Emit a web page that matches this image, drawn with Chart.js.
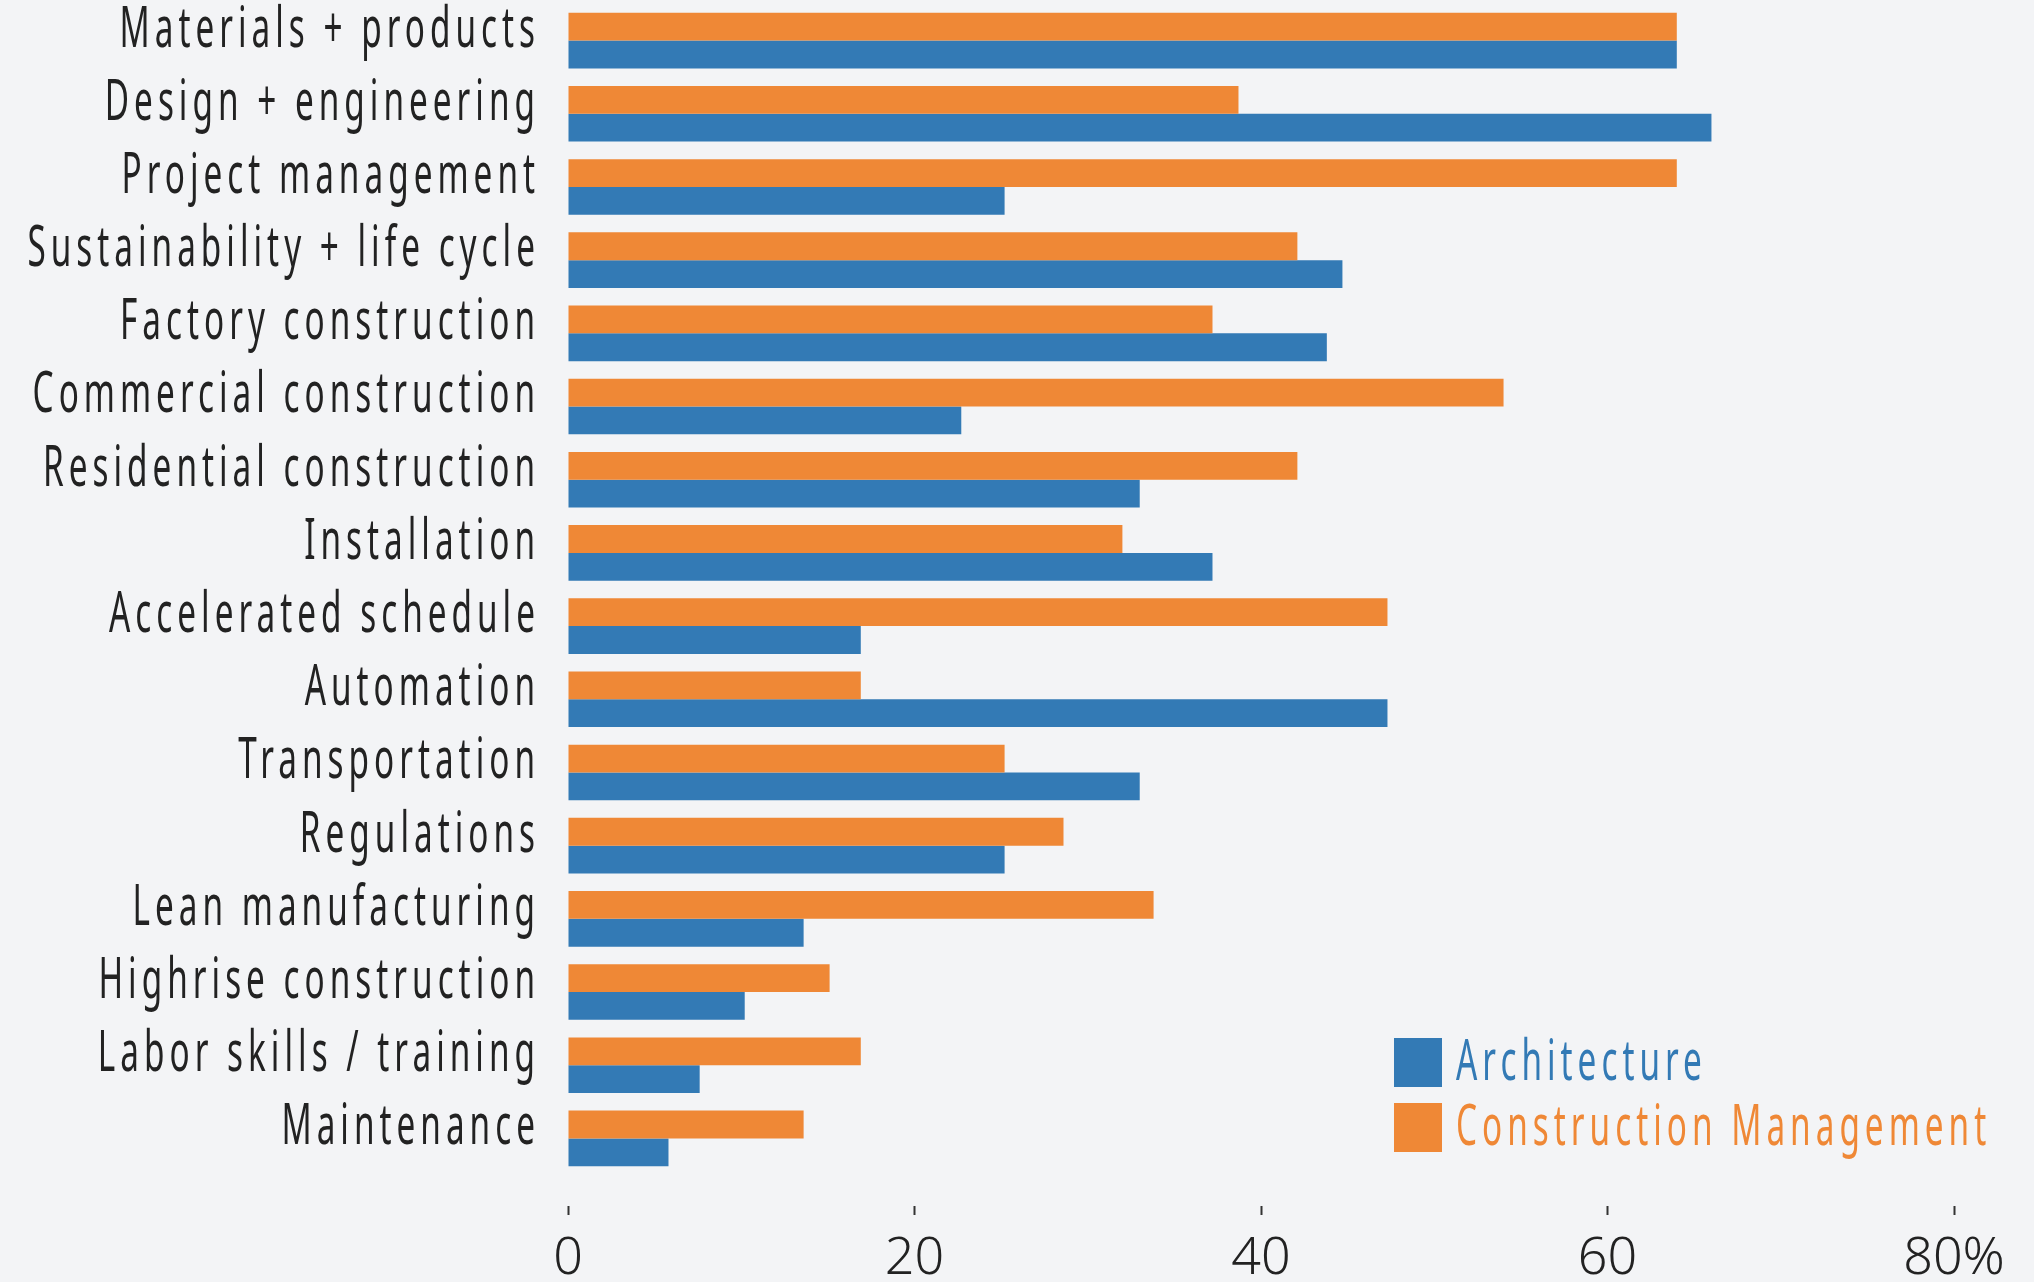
<!DOCTYPE html>
<html>
<head>
<meta charset="utf-8">
<script src="https://cdn.jsdelivr.net/npm/chart.js@4/dist/chart.umd.min.js"></script>
<style>
  html, body { margin: 0; padding: 0; background: #f3f4f6; }
  #wrap { width: 2034px; height: 1282px; position: relative; }
</style>
</head>
<body>
<div id="wrap"><canvas id="chart_one"></canvas></div>
<script>
const categories = [
  'Materials + products', 'Design + engineering', 'Project management',
  'Sustainability + life cycle', 'Factory construction', 'Commercial construction',
  'Residential construction', 'Installation', 'Accelerated schedule', 'Automation',
  'Transportation', 'Regulations', 'Lean manufacturing', 'Highrise construction',
  'Labor skills / training', 'Maintenance'
];
const architecture = [64, 66, 25.2, 44.7, 43.8, 22.7, 33, 37.2, 16.9, 47.3, 33, 25.2, 13.6, 10.2, 7.6, 5.8];
const constructionMgmt = [64, 38.7, 64, 42.1, 37.2, 54, 42.1, 32, 47.3, 16.9, 25.2, 28.6, 33.8, 15.1, 16.9, 13.6];
const xTicks = [0, 20, 40, 60, 80];

const blue = '#337ab5';
const orange = '#ef8836';
const fontFamily = "'Noto Sans', Roboto, sans-serif";

// no condensed face installed: squeeze glyphs and add tracking by hand
const squeeze = 0.595;
const tracking = 5;

function narrowText(c, text, x, y, align) {
  c.save();
  c.translate(align === 'right' ? x + tracking : x, y);
  c.scale(squeeze, 1);
  c.letterSpacing = (tracking / squeeze) + 'px';
  c.textAlign = align;
  c.fillText(text, 0, 0);
  c.restore();
}

// category labels placed on the y scale's own pixels
const narrowLabels = {
  id: 'narrowLabels',
  afterDraw(chart) {
    const c = chart.ctx;
    const ys = chart.scales.y;
    c.save();
    c.font = '400 56px ' + fontFamily;
    c.fillStyle = '#222';
    c.textBaseline = 'middle';
    chart.data.labels.forEach((lab, i) => {
      narrowText(c, lab, ys.right - 33, ys.getPixelForValue(i) - 10, 'right');
    });
    c.restore();
  }
};

// legend drawn inside the plot, bottom right
const insideLegend = {
  id: 'insideLegend',
  afterDraw(chart) {
    const c = chart.ctx;
    const area = chart.chartArea;
    const items = [chart.data.datasets[1], chart.data.datasets[0]];
    const x = area.left + 826;
    let y = area.top + 1034;
    c.save();
    c.font = '400 56px ' + fontFamily;
    c.textBaseline = 'middle';
    items.forEach(ds => {
      c.fillStyle = ds.backgroundColor;
      c.fillRect(x, y, 48, 49);
      narrowText(c, ds.label, x + 62, y + 26, 'left');
      y += 65;
    });
    c.restore();
  }
};

new Chart(document.getElementById('chart_one'), {
  type: 'bar',
  data: {
    labels: categories,
    datasets: [{
      label: 'Construction Management',
      data: constructionMgmt,
      backgroundColor: orange,
      borderWidth: 0
    }, {
      label: 'Architecture',
      data: architecture,
      backgroundColor: blue,
      borderWidth: 0
    }]
  },
  options: {
    indexAxis: 'y',
    responsive: true,
    maintainAspectRatio: false,
    animation: false,
    layout: { padding: { top: 4, right: 80, left: 14, bottom: 0 } },
    categoryPercentage: 0.76,
    barPercentage: 1.0,
    plugins: {
      legend: { display: false },
      tooltip: { enabled: false }
    },
    scales: {
      x: {
        min: 0,
        max: 80,
        afterBuildTicks(scale) {
          scale.ticks = xTicks.map(v => ({ value: v }));
        },
        afterFit(scale) {
          scale.paddingRight = 0;
          scale.paddingLeft = 0;
          scale.height = 107;
        },
        border: { display: false },
        grid: {
          drawOnChartArea: false,
          drawTicks: true,
          tickLength: 40,
          tickWidth: 2,
          tickColor: '#333',
          tickBorderDash: [0, 31, 9, 200]
        },
        ticks: {
          padding: 13,
          color: '#222',
          font: { family: fontFamily, size: 52, weight: '300' },
          callback: v => v === 80 ? v + '%' : v
        }
      },
      y: {
        afterFit(scale) {
          scale.paddingTop = 0;
          scale.paddingBottom = 0;
          scale.width = 554;
        },
        border: { display: false },
        grid: { display: false },
        ticks: { display: false }
      }
    }
  },
  plugins: [narrowLabels, insideLegend]
});
</script>
</body>
</html>
